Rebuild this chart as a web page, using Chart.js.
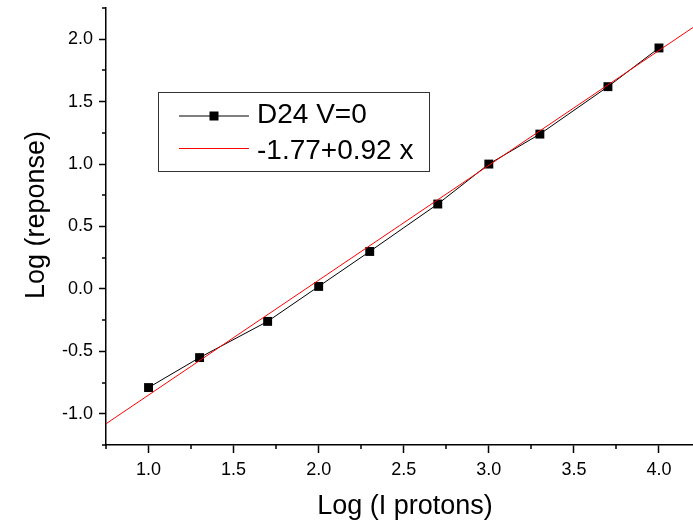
<!DOCTYPE html>
<html>
<head>
<meta charset="utf-8">
<script src="https://cdn.jsdelivr.net/npm/chart.js@4/dist/chart.umd.min.js"></script>
<style>
  body { margin: 0; background: #fff; }
  canvas { display: block; }
</style>
</head>
<body>
<canvas id="myChart" width="693" height="522"></canvas>
<script>
// data
const logProtons = [1.0, 1.3, 1.7, 2.0, 2.3, 2.7, 3.0, 3.3, 3.7, 4.0];
const logReponse = [-0.79, -0.55, -0.26, 0.02, 0.30, 0.68, 1.00, 1.24, 1.62, 1.93];
const fitX = [0.75, 4.2];
const fitIntercept = -1.77, fitSlope = 0.92;
const xMajor = [1.0, 1.5, 2.0, 2.5, 3.0, 3.5, 4.0];
const xMinor = [0.75, 1.25, 1.75, 2.25, 2.75, 3.25, 3.75];
const yMajor = [-1.0, -0.5, 0.0, 0.5, 1.0, 1.5, 2.0];
const yMinor = [-1.25, -0.75, -0.25, 0.25, 0.75, 1.25, 1.75, 2.25];
const xTitle = 'Log (I protons)';
const yTitle = 'Log (reponse)';

const font = 'Arial, "Liberation Sans", sans-serif';

const minorTicks = {
    id: 'minorTicks',
    afterDraw(chart) {
        const c = chart.ctx, xs = chart.scales.x, ys = chart.scales.y;
        const a = chart.chartArea;
        c.save();
        c.strokeStyle = '#000';
        c.lineWidth = 1.5;
        c.beginPath();
        xMinor.forEach(v => {
            const px = Math.round(xs.getPixelForValue(v));
            c.moveTo(px, a.bottom);
            c.lineTo(px, a.bottom + 4);
        });
        yMinor.forEach(v => {
            const py = Math.round(ys.getPixelForValue(v));
            c.moveTo(a.left, py);
            c.lineTo(a.left - 4, py);
        });
        c.stroke();
        c.restore();
    }
};

// axis titles, placed like the original
const axisTitles = {
    id: 'axisTitles',
    afterDraw(chart) {
        const c = chart.ctx;
        c.save();
        c.fillStyle = '#000';
        c.font = '27px ' + font;
        c.textAlign = 'center';
        c.textBaseline = 'alphabetic';
        c.fillText(xTitle, 405, 514);
        c.translate(44, 215);
        c.rotate(-Math.PI / 2);
        c.fillText(yTitle, 0, 0);
        c.restore();
    }
};

const boxLegend = {
    id: 'boxLegend',
    afterDraw(chart) {
        const c = chart.ctx;
        const ds = chart.data.datasets;
        c.save();
        c.strokeStyle = '#333';
        c.lineWidth = 1;
        c.strokeRect(158.5, 92.5, 271, 79);
        c.font = '28px ' + font;
        c.textBaseline = 'alphabetic';
        c.fillStyle = '#000';
        // first entry: black line + square
        c.strokeStyle = ds[0].borderColor;
        c.beginPath();
        c.moveTo(179, 116); c.lineTo(249, 116);
        c.stroke();
        c.fillRect(209.5, 111.5, 9, 9);
        c.fillText(ds[0].label, 257, 123);
        // second entry: red line
        c.strokeStyle = ds[1].borderColor;
        c.beginPath();
        c.moveTo(179, 148.5); c.lineTo(249, 148.5);
        c.stroke();
        c.fillText(ds[1].label, 257, 159);
        c.restore();
    }
};

const ctx = document.getElementById('myChart').getContext('2d');
const myChart = new Chart(ctx, {
    type: 'scatter',
    data: {
        datasets: [{
            label: 'D24 V=0',
            data: logProtons.map((x, i) => ({ x: x, y: logReponse[i] })),
            showLine: true,
            borderColor: '#000',
            borderWidth: 1,
            pointStyle: 'rect',
            pointRadius: 6.3,
            pointBackgroundColor: '#000',
            pointBorderWidth: 0,
            order: 1
        }, {
            label: '-1.77+0.92 x',
            data: fitX.map(x => ({ x: x, y: fitIntercept + fitSlope * x })),
            showLine: true,
            borderColor: '#ff0000',
            borderWidth: 1,
            pointRadius: 0,
            order: 0
        }]
    },
    options: {
        responsive: false,
        animation: false,
        layout: { autoPadding: false, padding: { top: 8, left: 0, right: 0, bottom: 0 } },
        plugins: { legend: { display: false }, tooltip: { enabled: false } },
        scales: {
            x: {
                type: 'linear',
                min: 0.75,
                max: 4.2,
                afterBuildTicks: s => { s.ticks = xMajor.map(v => ({ value: v })); },
                afterFit: s => { s.height = 77; s.paddingLeft = 0; s.paddingRight = 0; },
                grid: { drawOnChartArea: false, drawTicks: true, tickLength: 8, tickColor: '#000', tickWidth: 1.5 },
                border: { display: true, color: '#000', width: 1.5 },
                ticks: {
                    color: '#000', padding: 6, maxRotation: 0,
                    font: { family: font, size: 18 },
                    callback: v => v.toFixed(1)
                }
            },
            y: {
                type: 'linear',
                min: -1.25,
                max: 2.25,
                afterBuildTicks: s => { s.ticks = yMajor.map(v => ({ value: v })); },
                afterFit: s => { s.width = 106; s.paddingTop = 0; s.paddingBottom = 0; },
                grid: { drawOnChartArea: false, drawTicks: true, tickLength: 7, tickColor: '#000', tickWidth: 1.5 },
                border: { display: true, color: '#000', width: 1.5 },
                ticks: {
                    color: '#000', padding: 6,
                    font: { family: font, size: 18 },
                    callback: v => v.toFixed(1)
                }
            }
        }
    },
    plugins: [minorTicks, axisTitles, boxLegend]
});
</script>
</body>
</html>
